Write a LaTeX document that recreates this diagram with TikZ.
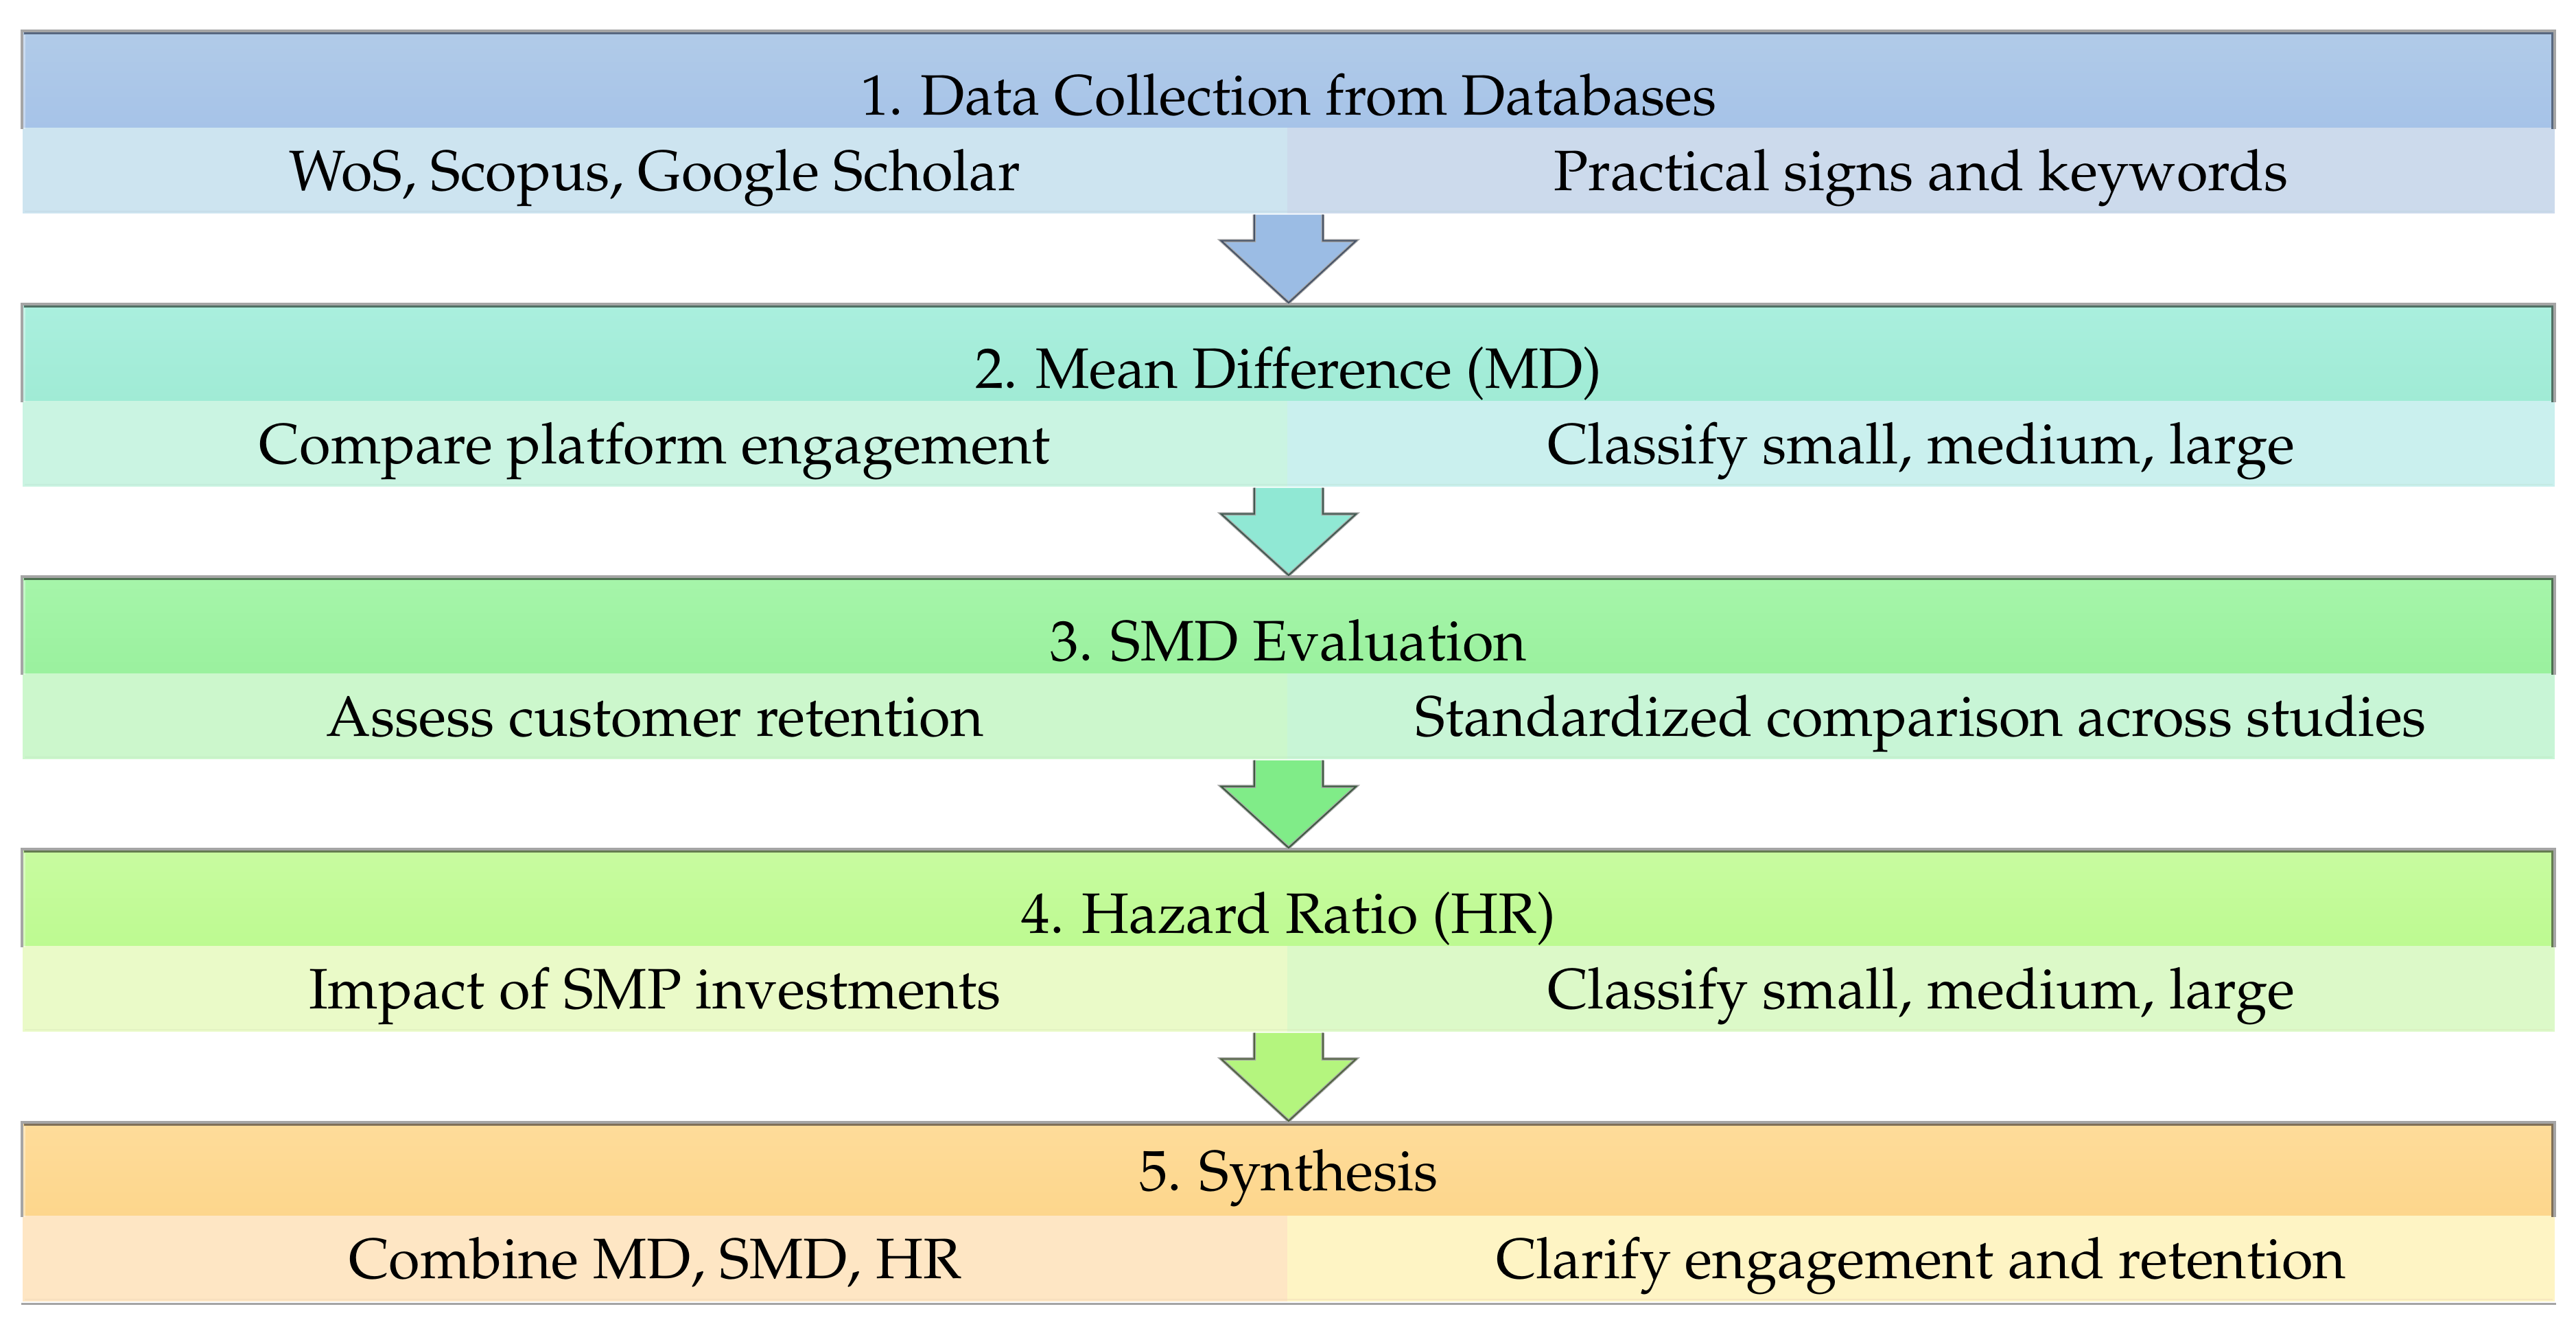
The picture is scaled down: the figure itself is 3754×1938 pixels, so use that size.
\documentclass[tikz,border=0pt]{standalone}
\usepackage[T1]{fontenc}
\usepackage{mathpazo}
\usetikzlibrary{calc}
\definecolor{hAt}{RGB}{177,203,232}\definecolor{hAb}{RGB}{166,195,232}
\definecolor{sAl}{RGB}{205,228,240}\definecolor{sAr}{RGB}{204,218,236}
\definecolor{dA}{RGB}{88,104,128}\definecolor{aA}{RGB}{155,188,228}
\definecolor{hBt}{RGB}{170,239,222}\definecolor{hBb}{RGB}{160,235,213}
\definecolor{sBl}{RGB}{202,244,226}\definecolor{sBr}{RGB}{202,240,238}
\definecolor{dB}{RGB}{80,112,100}\definecolor{aB}{RGB}{144,232,212}
\definecolor{hCt}{RGB}{166,245,170}\definecolor{hCb}{RGB}{154,241,158}
\definecolor{sCl}{RGB}{204,247,204}\definecolor{sCr}{RGB}{200,245,214}
\definecolor{dC}{RGB}{76,112,80}\definecolor{aC}{RGB}{128,236,136}
\definecolor{hDt}{RGB}{200,251,160}\definecolor{hDb}{RGB}{189,250,145}
\definecolor{sDl}{RGB}{234,250,200}\definecolor{sDr}{RGB}{220,249,200}
\definecolor{dD}{RGB}{100,124,80}\definecolor{aD}{RGB}{180,245,126}
\definecolor{hEt}{RGB}{254,220,154}\definecolor{hEb}{RGB}{253,214,140}
\definecolor{sEl}{RGB}{254,230,196}\definecolor{sEr}{RGB}{254,244,196}
\definecolor{dE}{RGB}{128,112,88}
\definecolor{shadowgray}{RGB}{165,165,165}
\newcommand\myfs{\fontsize{8.3}{10}\selectfont}
\tikzset{
  hdr/.style={anchor=north west, minimum width=369pt, minimum height=14.1pt,
    inner sep=0pt, text height=10.3pt, text depth=0pt, font=\myfs},
  subl/.style={anchor=north west, minimum width=184.3pt, minimum height=12.45pt,
    inner sep=0pt, text height=5.8pt, text depth=0pt, font=\myfs},
  subr/.style={anchor=north west, minimum width=184.7pt, minimum height=12.45pt,
    inner sep=0pt, text height=5.8pt, text depth=0pt, font=\myfs},
  grayframe/.style={draw=shadowgray, line width=0.35pt},
  darkframe/.style={line width=0.3pt},
}
\newcommand\stepframe[2]{%
  \draw[grayframe] ($(#1.south west)+(1,0)$) -- ($(#1.north west)+(1,2)$) -- ($(#1.north east)+(-2,2)$) -- ($(#1.south east)+(-2,0)$);
  \draw[darkframe, draw=#2] ($(#1.north west)+(4,5.5)$) -- ($(#1.north east)+(-5.5,5.5)$) -- ($(#1.south east)+(-5.5,0)$);
  \draw[white, opacity=0.35, line width=0.3pt] ($(#1.south west)+(4.5,0)$) -- ($(#1.north west)+(4.5,8)$);
}
\newcommand\flowarrow[4]{%
  \fill[#3] let \p1=(#1.south east), \p2=(#2.north) in
    ({\x2-5pt},{\y1}) -- ({\x2-5pt},{\y1-3.8pt}) -- ({\x2-9.85pt},{\y1-3.8pt}) -- (\x2,\y2)
    -- ({\x2+9.85pt},{\y1-3.8pt}) -- ({\x2+5pt},{\y1-3.8pt}) -- ({\x2+5pt},{\y1}) -- cycle;
  \draw[shadowgray, line width=0.45pt, line join=miter] let \p1=(#1.south east), \p2=(#2.north) in
    ({\x2-5pt},{\y1}) -- ({\x2-5pt},{\y1-3.8pt}) -- ({\x2-9.85pt},{\y1-3.8pt}) -- (\x2,\y2)
    -- ({\x2+9.85pt},{\y1-3.8pt}) -- ({\x2+5pt},{\y1-3.8pt}) -- ({\x2+5pt},{\y1});
  \draw[#4, line width=0.2pt, line join=miter] let \p1=(#1.south east), \p2=(#2.north) in
    ({\x2-5pt},{\y1}) -- ({\x2-5pt},{\y1-3.8pt}) -- ({\x2-9.85pt},{\y1-3.8pt}) -- (\x2,\y2)
    -- ({\x2+9.85pt},{\y1-3.8pt}) -- ({\x2+5pt},{\y1-3.8pt}) -- ({\x2+5pt},{\y1});
}
\begin{document}
\begin{tikzpicture}[x=0.1pt,y=-0.1pt]
\useasboundingbox (0,0) rectangle (3754,1938);
\fill[white] (0,0) rectangle (3754,1938);

% Box 1
\node[hdr, top color=hAt, bottom color=hAb] (h1) at (31,43) {1. Data Collection from Databases};
\node[subl, fill=sAl] (l1) at (31,184) {WoS, Scopus, Google Scholar};
\node[subr, fill=sAr] (r1) at (1874,184) {Practical signs and keywords};
\stepframe{h1}{dA}

% Box 2
\node[hdr, top color=hBt, bottom color=hBb] (h2) at (31,441) {2. Mean Difference (MD)};
\node[subl, fill=sBl] (l2) at (31,582) {Compare platform engagement};
\node[subr, fill=sBr] (r2) at (1874,582) {Classify small, medium, large};
\stepframe{h2}{dB}

% Box 3
\node[hdr, top color=hCt, bottom color=hCb] (h3) at (31,838) {3. SMD Evaluation};
\node[subl, fill=sCl] (l3) at (31,979) {Assess customer retention};
\node[subr, fill=sCr] (r3) at (1874,979) {Standardized comparison across studies};
\stepframe{h3}{dC}

% Box 4
\node[hdr, top color=hDt, bottom color=hDb] (h4) at (31,1235) {4. Hazard Ratio (HR)};
\node[subl, fill=sDl] (l4) at (31,1376) {Impact of SMP investments};
\node[subr, fill=sDr] (r4) at (1874,1376) {Classify small, medium, large};
\stepframe{h4}{dD}

% Box 5
\node[hdr, top color=hEt, bottom color=hEb, minimum height=13.6pt, text height=6.2pt] (h5) at (31,1633) {5. Synthesis};
\node[subl, fill=sEl] (l5) at (31,1769) {Combine MD, SMD, HR};
\node[subr, fill=sEr] (r5) at (1874,1769) {Clarify engagement and retention};
\stepframe{h5}{dE}
\draw[shadowgray, line width=0.35pt] ($(l5.south west)+(0,2)$) -- ($(r5.south east)+(0,2)$);

% faint inner bottom lines of sub rows
\foreach \n/\c in {1/sAl,2/sBl,3/sCl,4/sDl,5/sEl}{
  \draw[\c!92!black, opacity=0.35, line width=0.2pt] ($(l\n.south west)+(5,-5)$) -- ($(r\n.south east)+(-5,-5)$);
}

% Arrows
\flowarrow{l1}{h2}{aA}{dA!80!black}
\flowarrow{l2}{h3}{aB}{dB!80!black}
\flowarrow{l3}{h4}{aC}{dC!80!black}
\flowarrow{l4}{h5}{aD}{dD!80!black}
\end{tikzpicture}
\end{document}
